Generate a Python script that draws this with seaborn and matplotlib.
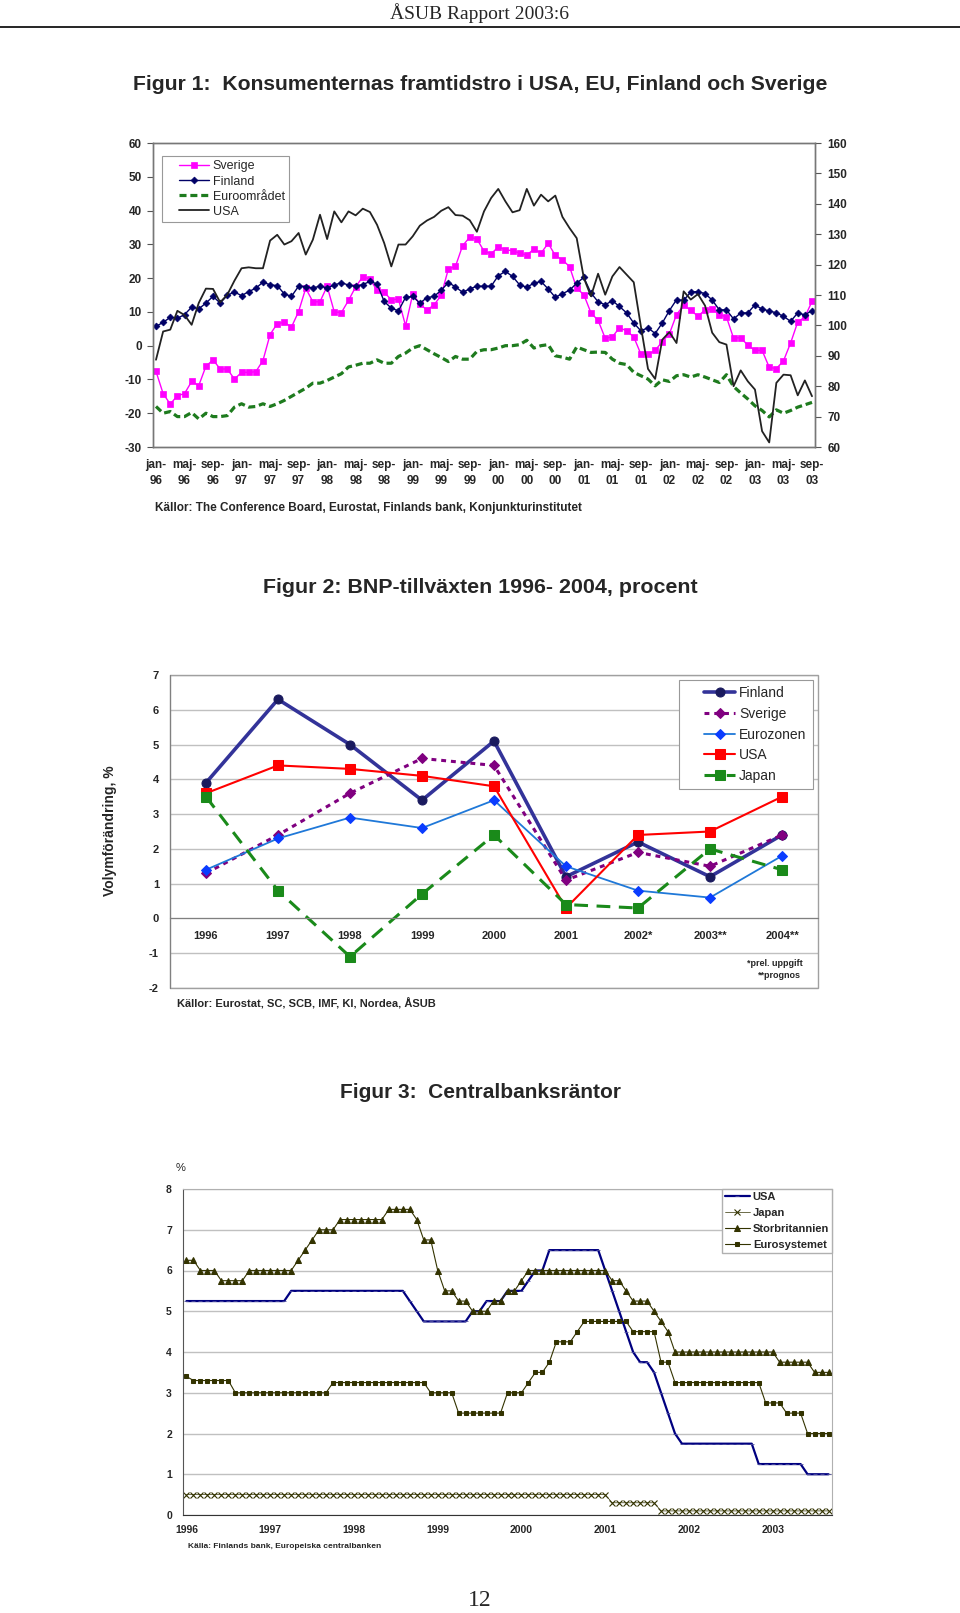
import matplotlib
matplotlib.use("Agg")
import matplotlib.pyplot as plt
import matplotlib.lines as mlines
import matplotlib.patches as patches
from matplotlib.legend_handler import HandlerLine2D
import seaborn as sns
import numpy as np

sns.set_style("white")
plt.rcParams['font.family'] = ['Liberation Sans', 'DejaVu Sans']
plt.rcParams['axes.unicode_minus'] = False

W, H = 960, 1613
NARROW = ['Liberation Sans Narrow', 'Liberation Sans', 'DejaVu Sans']
SERIF = ['Liberation Serif', 'DejaVu Serif']

# ---------------- Figur 1: konsumenternas framtidstro (monthly, jan-96 .. sep-03) ----------------
months = list(range(93))
tick_months = ['jan', 'maj', 'sep']
tick_years = ['96', '97', '98', '99', '00', '01', '02', '03']

sverige = [-7.6, -14.2, -17.3, -14.8, -14.2, -10.6, -11.8, -6.1, -4.2, -6.9,
           -6.9, -9.9, -7.9, -7.9, -7.7, -4.4, 3.3, 6.5, 6.9, 5.5,
           10.1, 17.0, 13.0, 13.0, 17.6, 10.0, 9.8, 13.4, 17.4, 20.4,
           19.7, 16.4, 15.8, 13.6, 13.8, 5.9, 15.2, 12.4, 10.5, 12.1,
           14.9, 22.7, 23.5, 29.6, 32.1, 31.6, 28.0, 27.2, 29.2, 28.4,
           28.1, 27.4, 26.8, 28.6, 27.4, 30.3, 26.7, 25.4, 23.4, 17.0,
           15.1, 9.7, 7.5, 2.2, 2.6, 5.3, 4.4, 2.6, -2.5, -2.6,
           -1.4, 1.2, 3.5, 9.2, 11.9, 10.5, 8.7, 10.6, 10.9, 9.2,
           8.5, 2.2, 2.4, 0.1, -1.4, -1.4, -6.4, -6.8, -4.5, 0.8,
           7.0, 8.5, 13.1]
finland = [5.7, 6.9, 8.4, 8.1, 9.2, 11.4, 10.9, 12.6, 14.6, 12.6,
           14.9, 15.9, 14.8, 16.0, 17.0, 18.8, 18.0, 17.8, 15.3, 14.6,
           17.6, 17.5, 17.1, 17.6, 17.1, 17.9, 18.7, 17.9, 17.6, 18.1,
           19.0, 18.3, 13.1, 11.1, 10.3, 14.3, 14.6, 12.6, 14.2, 14.6,
           16.4, 18.7, 17.4, 15.8, 16.8, 17.6, 17.6, 17.6, 20.7, 22.0,
           20.5, 18.0, 17.3, 18.5, 19.0, 16.8, 14.3, 15.4, 16.4, 18.5,
           20.2, 15.6, 13.0, 12.1, 13.3, 11.6, 9.7, 6.7, 4.4, 5.3,
           3.6, 6.7, 10.4, 13.6, 13.4, 15.9, 16.0, 15.4, 13.5, 10.6,
           10.6, 7.9, 9.7, 9.7, 12.1, 10.8, 10.3, 9.7, 8.7, 7.2,
           9.7, 9.1, 10.4]
euroomradet = [-18.0, -20.0, -19.5, -21.0, -21.0, -19.8, -21.7, -20.0, -21.0, -21.0,
               -20.7, -18.2, -17.2, -18.2, -18.0, -17.2, -18.0, -17.2, -16.2, -15.0,
               -13.8, -12.6, -11.1, -11.1, -10.3, -9.3, -8.3, -6.3, -5.8, -5.2,
               -5.2, -4.2, -5.2, -5.2, -3.2, -2.2, -0.7, 0.0, -1.2, -2.4,
               -3.5, -4.7, -3.2, -4.0, -4.0, -1.7, -1.2, -1.2, -0.7, 0.0,
               0.0, 0.3, 1.6, -0.7, 0.0, 0.3, -3.0, -3.4, -4.0, -0.4,
               -1.2, -2.0, -1.9, -2.0, -4.0, -5.2, -5.6, -7.9, -8.9, -9.9,
               -11.9, -10.1, -10.6, -8.9, -8.6, -9.3, -8.6, -9.3, -10.1, -10.9,
               -8.6, -12.1, -14.0, -15.8, -17.8, -19.2, -21.1, -19.0, -20.0, -19.2,
               -18.2, -17.5, -16.8]
usa_conf = [88.7, 98.0, 98.6, 104.8, 103.4, 100.2, 107.4, 112.1, 112.0, 107.6,
            110.1, 114.7, 118.8, 119.1, 118.8, 118.8, 127.9, 129.8, 126.6, 127.7,
            130.4, 123.3, 128.2, 136.4, 128.4, 137.5, 133.9, 137.5, 136.2, 138.4,
            137.3, 133.1, 127.1, 119.4, 126.6, 126.6, 129.3, 132.8, 134.5, 135.7,
            137.7, 138.9, 136.3, 136.1, 134.6, 130.8, 137.5, 141.9, 144.9, 140.8,
            137.2, 137.9, 144.9, 139.4, 143.0, 140.8, 142.7, 135.7, 132.0, 128.7,
            115.6, 109.6, 117.0, 110.1, 116.1, 119.2, 116.7, 114.2, 99.7, 85.7,
            82.4, 95.3, 97.8, 94.2, 111.2, 108.5, 110.3, 106.5, 97.6, 94.5,
            93.7, 80.0, 85.2, 81.6, 78.9, 65.2, 61.5, 81.1, 83.8, 83.6,
            77.0, 81.9, 76.7]

# ---------------- Figur 2: BNP-tillväxten ----------------
gdp_years = ['1996', '1997', '1998', '1999', '2000', '2001', '2002*', '2003**', '2004**']
gdp_finland = [3.9, 6.3, 5.0, 3.4, 5.1, 1.2, 2.2, 1.2, 2.4]
gdp_sverige = [1.3, 2.4, 3.6, 4.6, 4.4, 1.1, 1.9, 1.5, 2.4]
gdp_eurozonen = [1.4, 2.3, 2.9, 2.6, 3.4, 1.5, 0.8, 0.6, 1.8]
gdp_usa = [3.6, 4.4, 4.3, 4.1, 3.8, 0.3, 2.4, 2.5, 3.5]
gdp_japan = [3.5, 0.8, -1.1, 0.7, 2.4, 0.4, 0.3, 2.0, 1.4]

# ---------------- Figur 3: centralbanksräntor (monthly, jan-96 .. sep-03) ----------------
rate_years = ['1996', '1997', '1998', '1999', '2000', '2001', '2002', '2003']
rate_usa = [5.25, 5.25, 5.25, 5.25, 5.25, 5.25, 5.25, 5.25, 5.25, 5.25,
            5.25, 5.25, 5.25, 5.25, 5.25, 5.5, 5.5, 5.5, 5.5, 5.5,
            5.5, 5.5, 5.5, 5.5, 5.5, 5.5, 5.5, 5.5, 5.5, 5.5,
            5.5, 5.5, 5.25, 5.0, 4.75, 4.75, 4.75, 4.75, 4.75, 4.75,
            4.75, 5.0, 5.0, 5.25, 5.25, 5.25, 5.5, 5.5, 5.5, 5.75,
            6.0, 6.0, 6.5, 6.5, 6.5, 6.5, 6.5, 6.5, 6.5, 6.5,
            6.0, 5.5, 5.0, 4.5, 4.0, 3.75, 3.75, 3.5, 3.0, 2.5,
            2.0, 1.75, 1.75, 1.75, 1.75, 1.75, 1.75, 1.75, 1.75, 1.75,
            1.75, 1.75, 1.25, 1.25, 1.25, 1.25, 1.25, 1.25, 1.25, 1.0,
            1.0, 1.0, 1.0]
rate_japan = [0.5, 0.5, 0.5, 0.5, 0.5, 0.5, 0.5, 0.5, 0.5, 0.5,
              0.5, 0.5, 0.5, 0.5, 0.5, 0.5, 0.5, 0.5, 0.5, 0.5,
              0.5, 0.5, 0.5, 0.5, 0.5, 0.5, 0.5, 0.5, 0.5, 0.5,
              0.5, 0.5, 0.5, 0.5, 0.5, 0.5, 0.5, 0.5, 0.5, 0.5,
              0.5, 0.5, 0.5, 0.5, 0.5, 0.5, 0.5, 0.5, 0.5, 0.5,
              0.5, 0.5, 0.5, 0.5, 0.5, 0.5, 0.5, 0.5, 0.5, 0.5,
              0.5, 0.3, 0.3, 0.3, 0.3, 0.3, 0.3, 0.3, 0.1, 0.1,
              0.1, 0.1, 0.1, 0.1, 0.1, 0.1, 0.1, 0.1, 0.1, 0.1,
              0.1, 0.1, 0.1, 0.1, 0.1, 0.1, 0.1, 0.1, 0.1, 0.1,
              0.1, 0.1, 0.1]
rate_uk = [6.25, 6.25, 6.0, 6.0, 6.0, 5.75, 5.75, 5.75, 5.75, 6.0,
           6.0, 6.0, 6.0, 6.0, 6.0, 6.0, 6.25, 6.5, 6.75, 7.0,
           7.0, 7.0, 7.25, 7.25, 7.25, 7.25, 7.25, 7.25, 7.25, 7.5,
           7.5, 7.5, 7.5, 7.25, 6.75, 6.75, 6.0, 5.5, 5.5, 5.25,
           5.25, 5.0, 5.0, 5.0, 5.25, 5.25, 5.5, 5.5, 5.75, 6.0,
           6.0, 6.0, 6.0, 6.0, 6.0, 6.0, 6.0, 6.0, 6.0, 6.0,
           6.0, 5.75, 5.75, 5.5, 5.25, 5.25, 5.25, 5.0, 4.75, 4.5,
           4.0, 4.0, 4.0, 4.0, 4.0, 4.0, 4.0, 4.0, 4.0, 4.0,
           4.0, 4.0, 4.0, 4.0, 4.0, 3.75, 3.75, 3.75, 3.75, 3.75,
           3.5, 3.5, 3.5]
rate_euro = [3.4, 3.3, 3.3, 3.3, 3.3, 3.3, 3.3, 3.0, 3.0, 3.0,
             3.0, 3.0, 3.0, 3.0, 3.0, 3.0, 3.0, 3.0, 3.0, 3.0,
             3.0, 3.25, 3.25, 3.25, 3.25, 3.25, 3.25, 3.25, 3.25, 3.25,
             3.25, 3.25, 3.25, 3.25, 3.25, 3.0, 3.0, 3.0, 3.0, 2.5,
             2.5, 2.5, 2.5, 2.5, 2.5, 2.5, 3.0, 3.0, 3.0, 3.25,
             3.5, 3.5, 3.75, 4.25, 4.25, 4.25, 4.5, 4.75, 4.75, 4.75,
             4.75, 4.75, 4.75, 4.75, 4.5, 4.5, 4.5, 4.5, 3.75, 3.75,
             3.25, 3.25, 3.25, 3.25, 3.25, 3.25, 3.25, 3.25, 3.25, 3.25,
             3.25, 3.25, 3.25, 2.75, 2.75, 2.75, 2.5, 2.5, 2.5, 2.0,
             2.0, 2.0, 2.0]


def box(left, top, right, bottom):
    # pixel box (from top-left) -> figure fraction rect
    return [left / W, 1 - bottom / H, (right - left) / W, (bottom - top) / H]


def ftext(x, y, s, **kw):
    fig.text(x / W, 1 - y / H, s, **kw)


fig = plt.figure(figsize=(W / 100, H / 100), dpi=100)

# header
ftext(480, 13, 'ÅSUB Rapport 2003:6', ha='center', va='center', fontsize=14, family=SERIF)
fig.add_artist(mlines.Line2D([0, 1], [1 - 27 / H] * 2, color='black', lw=1.2))

# ================= Figur 1 =================
ftext(480, 84, 'Figur 1:  Konsumenternas framtidstro i USA, EU, Finland och Sverige',
      ha='center', va='center', fontsize=15.2, fontweight='bold', family=NARROW)

ax1 = fig.add_axes(box(153, 143, 815, 447))
ax1b = ax1.twinx()

sns.lineplot(x=months, y=sverige, ax=ax1, color='#FF00FF', lw=1, marker='s', markersize=4.5,
             markeredgecolor='#FF00FF', markeredgewidth=0.5, label='Sverige', legend=False)
sns.lineplot(x=months, y=finland, ax=ax1, color='#000066', lw=1, marker='D', markersize=3.5,
             markeredgecolor='#000066', markeredgewidth=0.5, label='Finland', legend=False)
sns.lineplot(x=months, y=euroomradet, ax=ax1, color='#1E7B1E', lw=2.3, dashes=(2.2, 1.2),
             label='Euroområdet', legend=False)
sns.lineplot(x=months, y=usa_conf, ax=ax1b, color='#222222', lw=1.3, label='USA', legend=False)

ax1.set_xlim(-0.42, 92.42)
ax1.set_ylim(-30, 60)
ax1b.set_ylim(60, 160)
ax1.set_yticks(range(-30, 61, 10))
ax1b.set_yticks(range(60, 161, 10))
month_labels = [f'{m}-\n{y}' for y in tick_years for m in tick_months]
ax1.set_xticks(range(0, 93, 4), labels=month_labels, fontsize=8.5, fontweight='bold',
               family=NARROW, linespacing=1.45)
ax1.set_xticks(months, minor=True)
ax1.tick_params(axis='x', which='both', direction='inout', length=5, color='#555555', pad=6)
ax1.tick_params(axis='y', direction='out', length=4, color='#555555', labelsize=8.5, pad=4)
ax1b.tick_params(axis='y', direction='out', length=4, color='#555555', labelsize=8.5, pad=5)
for lab in ax1.get_yticklabels() + ax1b.get_yticklabels():
    lab.set_fontweight('bold')
for a in (ax1, ax1b):
    a.set_xlabel('')
    a.set_ylabel('')
    for sp in a.spines.values():
        sp.set_color('#777777')
        sp.set_linewidth(1)

h1, l1 = ax1.get_legend_handles_labels()
h2, l2 = ax1b.get_legend_handles_labels()
leg1 = ax1b.legend(h1 + h2, l1 + l2, loc='upper left', bbox_to_anchor=(0.0136, 0.957),
                   borderaxespad=0, fontsize=9, labelspacing=0.25, handlelength=3.4,
                   handletextpad=0.3, borderpad=0.35, fancybox=False, framealpha=1,
                   edgecolor='#999999', handler_map={mlines.Line2D: HandlerLine2D(xpad=1.0)})
leg1.get_frame().set_linewidth(0.8)

ftext(155, 508, 'Källor: The Conference Board, Eurostat, Finlands bank, Konjunkturinstitutet',
      ha='left', va='center', fontsize=8.5, fontweight='bold', family=NARROW)

# ================= Figur 2 =================
ftext(480, 588, 'Figur 2: BNP-tillväxten 1996- 2004, procent',
      ha='center', va='center', fontsize=15.4, fontweight='bold', family=NARROW)

ax2 = fig.add_axes(box(170, 675, 818, 988))
cat_pos = list(range(len(gdp_years)))
sns.lineplot(x=cat_pos, y=gdp_finland, ax=ax2, color='#333399', lw=2.6, marker='o', markersize=6.5,
             markerfacecolor='#1A1A5E', markeredgecolor='#1A1A5E', label='Finland', legend=False)
sns.lineplot(x=cat_pos, y=gdp_sverige, ax=ax2, color='#800080', lw=2.2, dashes=(1.6, 1.6),
             marker='D', markersize=5.5, markeredgecolor='#800080', label='Sverige', legend=False)
sns.lineplot(x=cat_pos, y=gdp_eurozonen, ax=ax2, color='#1F78D8', lw=1.3, marker='D', markersize=5.5,
             markerfacecolor='#0A3CFF', markeredgecolor='#0A3CFF', label='Eurozonen', legend=False)
sns.lineplot(x=cat_pos, y=gdp_usa, ax=ax2, color='#FF0000', lw=1.5, marker='s', markersize=6.5,
             markeredgecolor='#FF0000', label='USA', legend=False)
sns.lineplot(x=cat_pos, y=gdp_japan, ax=ax2, color='#1A8A1A', lw=2.2, dashes=(4.5, 2.8),
             marker='s', markersize=6.5, markeredgecolor='#1A8A1A', label='Japan', legend=False)

ax2.set_xlim(-0.5, 8.5)
ax2.set_ylim(-2, 7)
ax2.set_yticks(range(-2, 8))
ax2.yaxis.grid(True, color='#C0C0C0', lw=1)
ax2.set_axisbelow(True)
ax2.set_xlabel('')
ax2.set_ylabel('')
ax2.spines['bottom'].set_position(('data', 0))
ax2.spines['bottom'].set_color('#808080')
ax2.spines['left'].set_color('#808080')
ax2.spines['top'].set_visible(False)
ax2.spines['right'].set_visible(False)
ax2.add_patch(patches.Rectangle((0, 0), 1, 1, transform=ax2.transAxes, fill=False,
                                edgecolor='#A0A0A0', lw=1, clip_on=False))
ax2.set_xticks(cat_pos, labels=gdp_years, fontsize=8, fontweight='bold')
ax2.set_xticks(np.arange(0.5, 8, 1), minor=True)
ax2.tick_params(axis='x', which='major', length=0, pad=9)
ax2.tick_params(axis='x', which='minor', direction='in', length=4, color='#808080')
ax2.tick_params(axis='y', length=0, labelsize=8, pad=8)
for lab in ax2.get_yticklabels():
    lab.set_fontweight('bold')

leg2 = ax2.legend(loc='upper right', bbox_to_anchor=(0.992, 0.984), borderaxespad=0,
                  fontsize=10, labelspacing=0.48, handlelength=3.6, handletextpad=0.3,
                  borderpad=0.45, fancybox=False, framealpha=1, edgecolor='#999999',
                  handler_map={mlines.Line2D: HandlerLine2D(xpad=1.4)})
leg2.get_frame().set_linewidth(0.8)

ftext(110, 831, 'Volymförändring, %', rotation=90, ha='center', va='center', fontsize=10,
      fontweight='bold')
ftext(775, 964, '*prel. uppgift', ha='center', va='center', fontsize=6.5, fontweight='bold',
      family=NARROW)
ftext(779, 976, '**prognos', ha='center', va='center', fontsize=6.5, fontweight='bold',
      family=NARROW)
ftext(177, 1004, 'Källor: Eurostat, SC, SCB, IMF, KI, Nordea, ÅSUB',
      ha='left', va='center', fontsize=8, fontweight='bold', family=NARROW)

# ================= Figur 3 =================
ftext(480, 1093, 'Figur 3:  Centralbanksräntor',
      ha='center', va='center', fontsize=15, fontweight='bold', family=NARROW)

ax3 = fig.add_axes(box(183, 1189, 832, 1515))
sns.lineplot(x=months, y=rate_usa, ax=ax3, color='#000080', lw=1.6, marker='_', markersize=3,
             markeredgecolor='#5050A0', markeredgewidth=0.6, label='USA', legend=False)
sns.lineplot(x=months, y=rate_japan, ax=ax3, color='#333300', lw=0.5, marker='x', markersize=4,
             markeredgecolor='#333300', markeredgewidth=0.8, label='Japan', legend=False)
sns.lineplot(x=months, y=rate_uk, ax=ax3, color='#333300', lw=0.8, marker='^', markersize=4,
             markeredgecolor='#333300', markerfacecolor='#333300', label='Storbritannien', legend=False)
sns.lineplot(x=months, y=rate_euro, ax=ax3, color='#333300', lw=0.8, marker='s', markersize=3.5,
             markeredgecolor='#333300', markerfacecolor='#333300', label='Eurosystemet', legend=False)

ax3.set_xlim(-0.5, 92.5)
ax3.set_ylim(0, 8)
ax3.set_yticks(range(0, 9))
ax3.yaxis.grid(True, color='#C0C0C0', lw=1)
ax3.set_axisbelow(True)
ax3.set_xlabel('')
ax3.set_ylabel('')
ax3.set_xticks(range(0, 93, 12), labels=rate_years, fontsize=7.5, fontweight='bold')
ax3.set_xticks(np.arange(-0.5, 93, 6), minor=True)
ax3.tick_params(axis='x', which='major', length=0, pad=7)
ax3.tick_params(axis='x', which='minor', direction='in', length=3, color='#555555')
ax3.tick_params(axis='y', direction='out', length=3, color='#555555', labelsize=7.5, pad=5)
for lab in ax3.get_yticklabels():
    lab.set_fontweight('bold')
ax3.spines['left'].set_color('#555555')
ax3.spines['bottom'].set_color('#333333')
ax3.spines['top'].set_color('#B0B0B0')
ax3.spines['right'].set_color('#B0B0B0')

leg3 = ax3.legend(loc='upper right', bbox_to_anchor=(1, 1), borderaxespad=0,
                  prop={'size': 8, 'weight': 'bold'}, labelspacing=0.55, handlelength=2.2,
                  handletextpad=0.3, borderpad=0.25, fancybox=False, framealpha=1,
                  edgecolor='#B0B0B0')
leg3.get_frame().set_linewidth(1)

ftext(181, 1168, '%', ha='center', va='center', fontsize=8)
ftext(188, 1547, 'Källa: Finlands bank, Europeiska centralbanken',
      ha='left', va='center', fontsize=6.0, fontweight='bold', family=NARROW)

# page number
ftext(480, 1601, '12', ha='center', va='center', fontsize=17, family=SERIF)

fig.savefig('out.png', dpi=100)
